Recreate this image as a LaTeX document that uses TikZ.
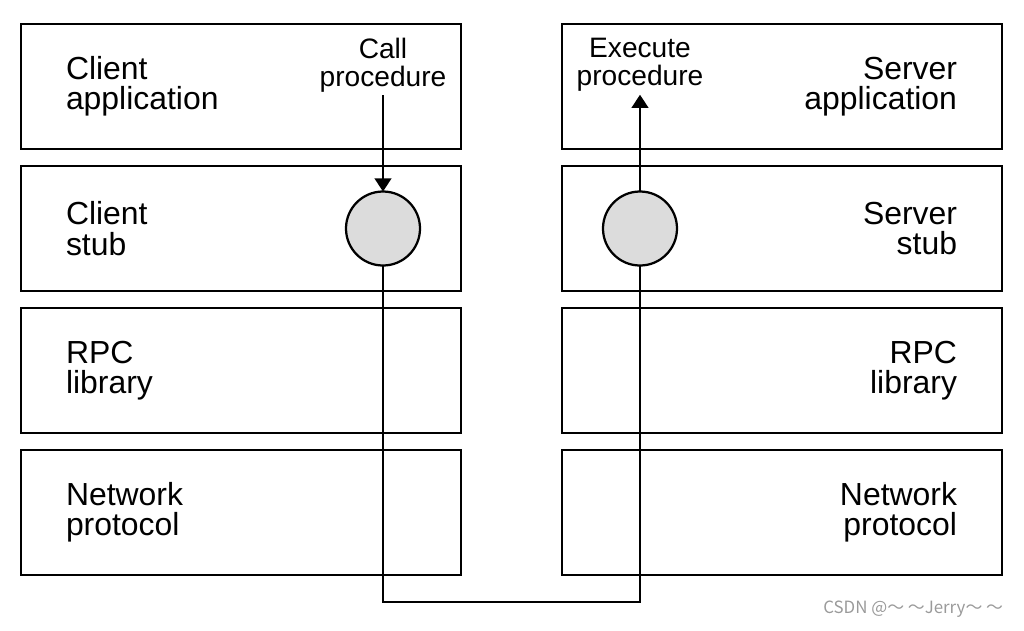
\documentclass[tikz,border=0pt]{standalone}
\usepackage{fontspec}
\setmainfont{Liberation Sans}
\newfontfamily\cjk{Noto Sans CJK SC}
\usetikzlibrary{arrows.meta,positioning,calc}
\definecolor{StubGray}{HTML}{DCDCDC}
\definecolor{Mark}{HTML}{9A9A9A}

\begin{document}
\begin{tikzpicture}[
    layer/.style={draw,line width=1.8pt,minimum width=11cm,minimum height=3.125cm,
      text width=8.75cm,outer sep=0pt,font=\fontsize{22.7}{21.5}\selectfont},
    cside/.style={layer,align=left},
    sside/.style={layer,align=right},
    stubdot/.style={circle,draw,line width=1.6pt,fill=StubGray,
      minimum size=1.85cm,inner sep=0pt,outer sep=0pt},
    note/.style={align=center,font=\fontsize{20}{20}\selectfont,inner sep=2pt},
    flow/.style={line width=1.5pt},
    arr/.style={flow,-{Triangle[length=0.33cm,width=0.42cm]}}
  ]
  \useasboundingbox (0,0) rectangle (25.6,-15.75);
  % client side
  \node[cside,anchor=north west] (capp) at (0.525,-0.6) {Client\\application};
  \node[cside,below=0.425cm of capp] (cstub) {Client\\stub};
  \node[cside,below=0.425cm of cstub] (clib) {RPC\\library};
  \node[cside,below=0.425cm of clib] (cnet) {Network\\protocol};
  % server side
  \node[sside,right=2.525cm of capp] (sapp) {Server\\application};
  \node[sside,below=0.425cm of sapp] (sstub) {Server\\stub};
  \node[sside,below=0.425cm of sstub] (slib) {RPC\\library};
  \node[sside,below=0.425cm of slib] (snet) {Network\\protocol};
  % stubs and call path
  \node[stubdot,left=1.025cm of cstub.east] (cdot) {};
  \node[stubdot,right=1.025cm of sstub.west] (sdot) {};
  \node[note] (call) at ($(cdot |- capp.north)+(0,-1.025)$) {Call\\procedure};
  \node[note] (exec) at ($(sdot |- sapp.north)+(0,-1.025)$) {Execute\\procedure};
  \coordinate[below=0.675cm of cnet.south] (low);
  \draw[arr] (call.south) -- (cdot.north);
  \draw[flow] (cdot.south) -- (cdot |- low) -| (sdot.south);
  \draw[arr] (sdot.north) -- (exec.south);
  \node[anchor=east,text=Mark,font=\cjk\fontsize{12}{13}\selectfont] (wm)
    at (25.2,-15.225) {CSDN @～ ～Jerry～ ～};
\end{tikzpicture}
\end{document}
